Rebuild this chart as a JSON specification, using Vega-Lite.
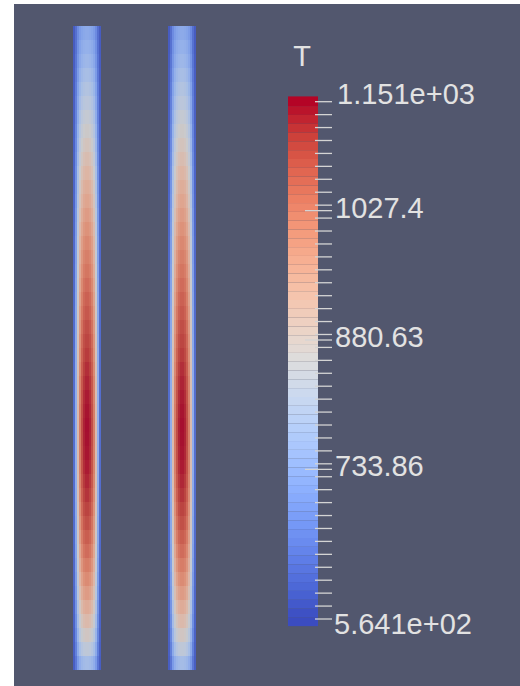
{
  "$schema": "https://vega.github.io/schema/vega-lite/v6.json",
  "width": 520,
  "height": 686,
  "autosize": {"type": "fit", "contains": "padding"},
  "padding": {"left": 14, "top": 4, "right": 0, "bottom": 0},
  "background": "#ffffff",
  "config": {"view": {"fill": "#52576e", "stroke": null}},
  "datasets": {
    "profile": [
      {"z": 26, "z2": 40, "T": [727, 723, 713, 697, 665, 618, 586]},
      {"z": 40, "z2": 54, "T": [744, 740, 729, 710, 675, 622, 587]},
      {"z": 54, "z2": 68, "T": [761, 756, 744, 724, 685, 627, 588]},
      {"z": 68, "z2": 82, "T": [782, 777, 763, 741, 697, 633, 590]},
      {"z": 82, "z2": 96, "T": [803, 797, 783, 757, 710, 639, 591]},
      {"z": 96, "z2": 110, "T": [824, 818, 802, 774, 722, 645, 592]},
      {"z": 110, "z2": 124, "T": [845, 838, 821, 791, 734, 651, 594]},
      {"z": 124, "z2": 138, "T": [866, 859, 840, 808, 747, 657, 595]},
      {"z": 138, "z2": 152, "T": [887, 879, 859, 825, 759, 662, 597]},
      {"z": 152, "z2": 166, "T": [908, 900, 878, 841, 772, 668, 598]},
      {"z": 166, "z2": 180, "T": [929, 920, 897, 858, 784, 674, 600]},
      {"z": 180, "z2": 194, "T": [949, 940, 915, 874, 796, 680, 601]},
      {"z": 194, "z2": 208, "T": [966, 956, 931, 888, 806, 685, 602]},
      {"z": 208, "z2": 222, "T": [984, 974, 947, 902, 816, 690, 604]},
      {"z": 222, "z2": 236, "T": [1001, 990, 963, 916, 826, 694, 605]},
      {"z": 236, "z2": 250, "T": [1018, 1007, 978, 929, 836, 699, 606]},
      {"z": 250, "z2": 264, "T": [1032, 1021, 991, 941, 845, 703, 607]},
      {"z": 264, "z2": 278, "T": [1046, 1034, 1004, 952, 853, 707, 608]},
      {"z": 278, "z2": 292, "T": [1060, 1048, 1016, 963, 861, 711, 609]},
      {"z": 292, "z2": 306, "T": [1074, 1062, 1029, 974, 869, 715, 610]},
      {"z": 306, "z2": 320, "T": [1086, 1073, 1040, 984, 877, 718, 611]},
      {"z": 320, "z2": 334, "T": [1098, 1085, 1051, 993, 884, 721, 612]},
      {"z": 334, "z2": 348, "T": [1109, 1096, 1061, 1002, 890, 725, 612]},
      {"z": 348, "z2": 362, "T": [1118, 1104, 1069, 1009, 895, 727, 613]},
      {"z": 362, "z2": 376, "T": [1128, 1114, 1078, 1017, 901, 730, 614]},
      {"z": 376, "z2": 390, "T": [1136, 1122, 1086, 1024, 906, 732, 614]},
      {"z": 390, "z2": 404, "T": [1143, 1129, 1092, 1029, 910, 734, 615]},
      {"z": 404, "z2": 418, "T": [1148, 1134, 1096, 1033, 913, 735, 615]},
      {"z": 418, "z2": 432, "T": [1151, 1137, 1099, 1036, 915, 736, 615]},
      {"z": 432, "z2": 446, "T": [1150, 1136, 1098, 1035, 914, 736, 615]},
      {"z": 446, "z2": 460, "T": [1147, 1133, 1096, 1033, 912, 735, 615]},
      {"z": 460, "z2": 474, "T": [1142, 1128, 1091, 1029, 910, 734, 615]},
      {"z": 474, "z2": 488, "T": [1134, 1120, 1084, 1022, 905, 732, 614]},
      {"z": 488, "z2": 502, "T": [1124, 1110, 1075, 1014, 899, 729, 613]},
      {"z": 502, "z2": 516, "T": [1111, 1098, 1063, 1004, 891, 725, 613]},
      {"z": 516, "z2": 530, "T": [1096, 1083, 1049, 992, 882, 721, 612]},
      {"z": 530, "z2": 544, "T": [1079, 1066, 1034, 978, 872, 716, 610]},
      {"z": 544, "z2": 558, "T": [1059, 1047, 1015, 962, 861, 711, 609]},
      {"z": 558, "z2": 572, "T": [1036, 1025, 995, 944, 847, 704, 607]},
      {"z": 572, "z2": 586, "T": [1012, 1001, 973, 925, 833, 697, 606]},
      {"z": 586, "z2": 600, "T": [984, 974, 947, 902, 816, 690, 604]},
      {"z": 600, "z2": 614, "T": [952, 943, 918, 877, 797, 681, 601]},
      {"z": 614, "z2": 628, "T": [917, 909, 886, 849, 777, 671, 599]},
      {"z": 628, "z2": 642, "T": [878, 870, 851, 817, 754, 660, 596]},
      {"z": 642, "z2": 656, "T": [832, 826, 809, 781, 727, 647, 593]},
      {"z": 656, "z2": 670, "T": [776, 771, 758, 736, 694, 631, 589]}
    ],
    "cells": [
      {"k": 1, "l1": 85, "l1e": 87, "r1": 87, "r1e": 89, "l2": 180, "l2e": 182, "r2": 182, "r2e": 184},
      {"k": 2, "l1": 83, "l1e": 85, "r1": 89, "r1e": 91, "l2": 178, "l2e": 180, "r2": 184, "r2e": 186},
      {"k": 3, "l1": 81, "l1e": 83, "r1": 91, "r1e": 93, "l2": 176, "l2e": 178, "r2": 186, "r2e": 188},
      {"k": 4, "l1": 79, "l1e": 81, "r1": 93, "r1e": 95, "l2": 174, "l2e": 176, "r2": 188, "r2e": 190},
      {"k": 5, "l1": 77, "l1e": 79, "r1": 95, "r1e": 97, "l2": 172, "l2e": 174, "r2": 190, "r2e": 192},
      {"k": 6, "l1": 75, "l1e": 77, "r1": 97, "r1e": 99, "l2": 170, "l2e": 172, "r2": 192, "r2e": 194},
      {"k": 7, "l1": 73, "l1e": 75, "r1": 99, "r1e": 101, "l2": 168, "l2e": 170, "r2": 194, "r2e": 196}
    ],
    "bar": [
      {"T": 561, "t0": 556, "t1": 566}, {"T": 571, "t0": 566, "t1": 576}, {"T": 581, "t0": 576, "t1": 586},
      {"T": 591, "t0": 586, "t1": 596}, {"T": 601, "t0": 596, "t1": 606}, {"T": 611, "t0": 606, "t1": 616},
      {"T": 621, "t0": 616, "t1": 626}, {"T": 631, "t0": 626, "t1": 636}, {"T": 641, "t0": 636, "t1": 646},
      {"T": 651, "t0": 646, "t1": 656}, {"T": 661, "t0": 656, "t1": 666}, {"T": 671, "t0": 666, "t1": 676},
      {"T": 681, "t0": 676, "t1": 686}, {"T": 691, "t0": 686, "t1": 696}, {"T": 701, "t0": 696, "t1": 706},
      {"T": 711, "t0": 706, "t1": 716}, {"T": 721, "t0": 716, "t1": 726}, {"T": 731, "t0": 726, "t1": 736},
      {"T": 741, "t0": 736, "t1": 746}, {"T": 751, "t0": 746, "t1": 756}, {"T": 761, "t0": 756, "t1": 766},
      {"T": 771, "t0": 766, "t1": 776}, {"T": 781, "t0": 776, "t1": 786}, {"T": 791, "t0": 786, "t1": 796},
      {"T": 801, "t0": 796, "t1": 806}, {"T": 811, "t0": 806, "t1": 816}, {"T": 821, "t0": 816, "t1": 826},
      {"T": 831, "t0": 826, "t1": 836}, {"T": 841, "t0": 836, "t1": 846}, {"T": 851, "t0": 846, "t1": 856},
      {"T": 861, "t0": 856, "t1": 866}, {"T": 871, "t0": 866, "t1": 876}, {"T": 881, "t0": 876, "t1": 886},
      {"T": 891, "t0": 886, "t1": 896}, {"T": 901, "t0": 896, "t1": 906}, {"T": 911, "t0": 906, "t1": 916},
      {"T": 921, "t0": 916, "t1": 926}, {"T": 931, "t0": 926, "t1": 936}, {"T": 941, "t0": 936, "t1": 946},
      {"T": 951, "t0": 946, "t1": 956}, {"T": 961, "t0": 956, "t1": 966}, {"T": 971, "t0": 966, "t1": 976},
      {"T": 981, "t0": 976, "t1": 986}, {"T": 991, "t0": 986, "t1": 996}, {"T": 1001, "t0": 996, "t1": 1006},
      {"T": 1011, "t0": 1006, "t1": 1016}, {"T": 1021, "t0": 1016, "t1": 1026}, {"T": 1031, "t0": 1026, "t1": 1036},
      {"T": 1041, "t0": 1036, "t1": 1046}, {"T": 1051, "t0": 1046, "t1": 1056}, {"T": 1061, "t0": 1056, "t1": 1066},
      {"T": 1071, "t0": 1066, "t1": 1076}, {"T": 1081, "t0": 1076, "t1": 1086}, {"T": 1091, "t0": 1086, "t1": 1096},
      {"T": 1101, "t0": 1096, "t1": 1106}, {"T": 1111, "t0": 1106, "t1": 1116}, {"T": 1121, "t0": 1116, "t1": 1126},
      {"T": 1131, "t0": 1126, "t1": 1136}, {"T": 1141, "t0": 1136, "t1": 1146}, {"T": 1151, "t0": 1146, "t1": 1157}
    ],
    "ticks": [
      {"T": 564.1}, {"T": 578.77}, {"T": 593.45}, {"T": 608.12}, {"T": 622.79}, {"T": 637.46}, {"T": 652.14},
      {"T": 666.81}, {"T": 681.48}, {"T": 696.15}, {"T": 710.83}, {"T": 725.5}, {"T": 740.17}, {"T": 754.84},
      {"T": 769.52}, {"T": 784.19}, {"T": 798.86}, {"T": 813.53}, {"T": 828.21}, {"T": 842.88}, {"T": 857.55},
      {"T": 872.22}, {"T": 886.9}, {"T": 901.57}, {"T": 916.24}, {"T": 930.91}, {"T": 945.59}, {"T": 960.26},
      {"T": 974.93}, {"T": 989.6}, {"T": 1004.28}, {"T": 1018.95}, {"T": 1033.62}, {"T": 1048.29}, {"T": 1062.97},
      {"T": 1077.64}, {"T": 1092.31}, {"T": 1106.98}, {"T": 1121.66}, {"T": 1136.33}, {"T": 1151}
    ],
    "labels": [
      {"T": 1151, "label": "1.151e+03"},
      {"T": 1027.4, "label": "1027.4"},
      {"T": 880.63, "label": "880.63"},
      {"T": 733.86, "label": "733.86"},
      {"T": 564.1, "label": "5.641e+02"}
    ]
  },
  "layer": [
    {
      "layer": [
        {
          "data": {"name": "profile"},
          "transform": [
            {"flatten": ["T"]},
            {"window": [{"op": "row_number", "as": "k"}], "groupby": ["z"]},
            {"lookup": "k", "from": {"data": {"name": "cells"}, "key": "k", "fields": ["l1", "l1e", "r1", "r1e", "l2", "l2e", "r2", "r2e"]}}
          ],
          "encoding": {
            "y": {"field": "z", "type": "quantitative", "scale": {"domain": [4, 686], "reverse": true, "nice": false, "zero": false}, "axis": null},
            "y2": {"field": "z2"},
            "color": {
              "field": "T", "type": "quantitative", "legend": null,
              "scale": {
                "type": "linear", "interpolate": "rgb", "clamp": true,
                "domain": [564.1, 600.78, 637.46, 674.14, 710.83, 747.51, 784.19, 820.87, 857.55, 894.23, 930.91, 967.59, 1004.28, 1040.96, 1077.64, 1114.32, 1151],
                "range": ["#3b4cc0", "#4d68d7", "#6282ea", "#779af7", "#8db0fe", "#a3c2ff", "#b8d0f9", "#ccd9ee", "#dddddd", "#ecd3c5", "#f5c4ad", "#f7b194", "#f49a7b", "#ec7f63", "#de604d", "#cb3e38", "#b40426"]
              }
            }
          },
          "layer": [
            {"mark": {"type": "rect", "opacity": 0.86}, "encoding": {"x": {"field": "l1", "type": "quantitative", "scale": {"domain": [14, 520], "nice": false, "zero": false}, "axis": null}, "x2": {"field": "l1e"}}},
            {"mark": {"type": "rect", "opacity": 0.86}, "encoding": {"x": {"field": "r1", "type": "quantitative"}, "x2": {"field": "r1e"}}},
            {"mark": {"type": "rect", "opacity": 0.86}, "encoding": {"x": {"field": "l2", "type": "quantitative"}, "x2": {"field": "l2e"}}},
            {"mark": {"type": "rect", "opacity": 0.86}, "encoding": {"x": {"field": "r2", "type": "quantitative"}, "x2": {"field": "r2e"}}}
          ]
        },
        {
          "data": {"values": [{"name": "T"}]},
          "mark": {"type": "text", "align": "center", "baseline": "alphabetic", "font": "Liberation Sans", "fontSize": 29, "color": "#e2e2e2"},
          "encoding": {
            "x": {"datum": 302},
            "y": {"datum": 66},
            "text": {"field": "name"}
          }
        }
      ]
    },
    {
      "layer": [
        {
          "data": {"name": "bar"},
          "mark": {"type": "rect"},
          "encoding": {
            "x": {"datum": 288},
            "x2": {"datum": 318},
            "y": {"field": "t0", "type": "quantitative", "scale": {"domain": [488.09, 1261.84], "nice": false, "zero": false}, "axis": null},
            "y2": {"field": "t1"},
            "color": {"field": "T", "type": "quantitative", "legend": null}
          }
        },
        {
          "data": {"name": "ticks"},
          "mark": {"type": "rule", "color": "#d4d4d4", "strokeWidth": 1.3},
          "encoding": {
            "x": {"datum": 315},
            "x2": {"datum": 332},
            "y": {"field": "T", "type": "quantitative"}
          }
        },
        {
          "data": {"name": "labels"},
          "transform": [{"filter": "datum.T > 600 && datum.T < 1100"}],
          "mark": {"type": "rule", "color": "#d4d4d4", "strokeWidth": 1.3},
          "encoding": {
            "x": {"datum": 305},
            "x2": {"datum": 332},
            "y": {"field": "T", "type": "quantitative"}
          }
        },
        {
          "data": {"name": "labels"},
          "transform": [{"filter": "datum.T > 1100"}],
          "mark": {"type": "text", "align": "left", "baseline": "alphabetic", "dy": 2, "font": "Liberation Sans", "fontSize": 29, "color": "#e2e2e2"},
          "encoding": {"x": {"datum": 337}, "y": {"field": "T", "type": "quantitative"}, "text": {"field": "label"}}
        },
        {
          "data": {"name": "labels"},
          "transform": [{"filter": "datum.T > 600 && datum.T < 1100"}],
          "mark": {"type": "text", "align": "left", "baseline": "alphabetic", "dy": 7, "font": "Liberation Sans", "fontSize": 29, "color": "#e2e2e2"},
          "encoding": {"x": {"datum": 335}, "y": {"field": "T", "type": "quantitative"}, "text": {"field": "label"}}
        },
        {
          "data": {"name": "labels"},
          "transform": [{"filter": "datum.T < 600"}],
          "mark": {"type": "text", "align": "left", "baseline": "alphabetic", "dy": 15, "font": "Liberation Sans", "fontSize": 29, "color": "#e2e2e2"},
          "encoding": {"x": {"datum": 334}, "y": {"field": "T", "type": "quantitative"}, "text": {"field": "label"}}
        }
      ]
    }
  ],
  "resolve": {"scale": {"y": "independent"}}
}
